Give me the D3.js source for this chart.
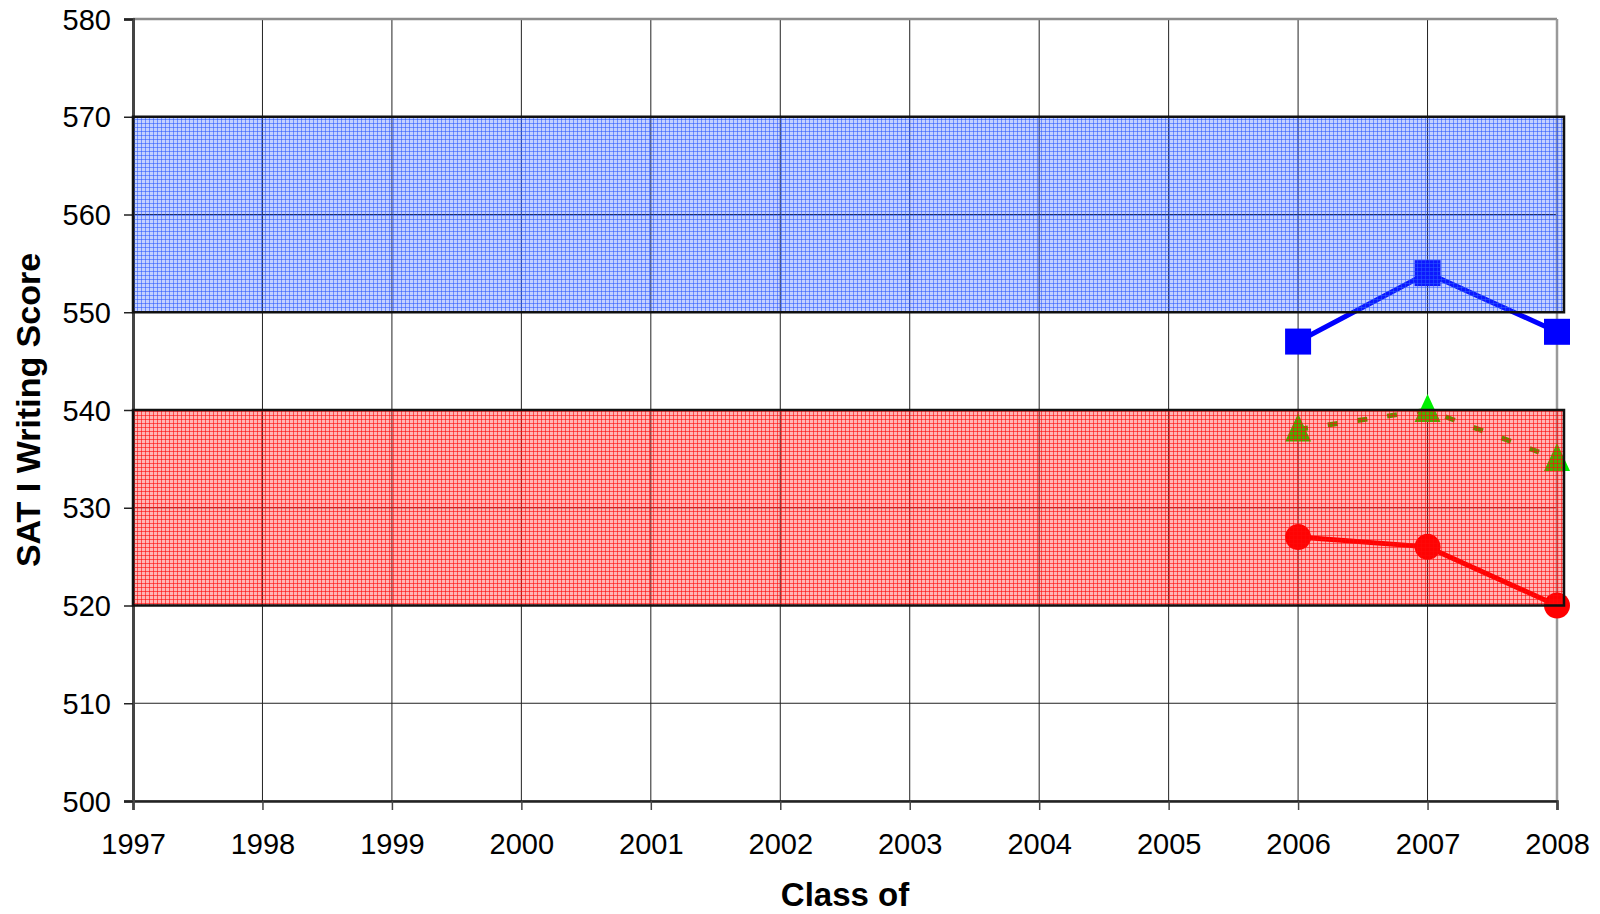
<!DOCTYPE html>
<html>
<head>
<meta charset="utf-8">
<script src="https://cdn.jsdelivr.net/npm/d3@7"></script>
<style>
	body { margin: 0; background: #fff; }
	text { font-family: "Liberation Sans", Arial, sans-serif; fill: #000; }
</style>
</head>
<body>
<div id="chart"></div>
<script>

// chart values
var yearTicks = [1997, 1998, 1999, 2000, 2001, 2002, 2003, 2004, 2005, 2006, 2007, 2008];
var scoreTicks = [500, 510, 520, 530, 540, 550, 560, 570, 580];
var seriesYears = [2006, 2007, 2008];
var blueScores = [547, 554, 548];
var greenScores = [538, 540, 535];
var redScores = [527, 526, 520];
var blueBand = [550, 570];
var redBand = [520, 540];

var margin = { top: 19, right: 43, bottom: 113, left: 133 };
var width = 1600 - margin.left - margin.right,
	height = 914 - margin.top - margin.bottom;

var root = d3.select("#chart").append("svg")
	.attr("width", 1600)
	.attr("height", 914);

// hatched fills for the two bands
var defs = root.append("defs");
function addGrid(id, color, fillOp, lineOp) {
	var p = defs.append("pattern")
		.attr("id", id)
		.attr("patternUnits", "userSpaceOnUse")
		.attr("width", 4)
		.attr("height", 4);
	p.append("rect")
		.attr("width", 4).attr("height", 4)
		.attr("fill", color).attr("fill-opacity", fillOp);
	p.append("path")
		.attr("d", "M0,0.5H4M0.5,0V4")
		.attr("stroke", color).attr("stroke-opacity", lineOp)
		.attr("stroke-width", 1);
}
addGrid("blueGrid", "#2a58ff", 0.28, 0.55);
addGrid("redGrid", "#ff0a0a", 0.3, 0.6);

var svg = root.append("g")
	.attr("transform", "translate(" + margin.left + "," + margin.top + ")");

var x = d3.scaleLinear()
	.domain([d3.min(yearTicks), d3.max(yearTicks)])
	.range([0, width]);

var y = d3.scaleLinear()
	.domain([d3.min(scoreTicks), d3.max(scoreTicks)])
	.range([height, 0]);

// gridlines
svg.append("g").selectAll("line")
	.data(scoreTicks)
	.enter().append("line")
	.attr("x1", 0).attr("x2", width)
	.attr("y1", d => y(d)).attr("y2", d => y(d))
	.attr("stroke", "#222").attr("stroke-width", 1);

svg.append("g").selectAll("line")
	.data(yearTicks)
	.enter().append("line")
	.attr("x1", d => x(d)).attr("x2", d => x(d))
	.attr("y1", 0).attr("y2", height)
	.attr("stroke", "#222").attr("stroke-width", 1);

// top and right frame are grey
svg.append("line")
	.attr("x1", 0).attr("x2", width).attr("y1", 0).attr("y2", 0)
	.attr("stroke", "#8c8c8c").attr("stroke-width", 2.5);
svg.append("line")
	.attr("x1", width).attr("x2", width).attr("y1", 0).attr("y2", height)
	.attr("stroke", "#9a9a9a").attr("stroke-width", 2.5);

// axes
var xAxis = d3.axisBottom(x)
	.tickValues(yearTicks)
	.tickFormat(d3.format("d"))
	.tickSize(9)
	.tickPadding(23);

var yAxis = d3.axisLeft(y)
	.tickValues(scoreTicks)
	.tickSize(9)
	.tickPadding(13);

var gx = svg.append("g")
	.attr("class", "x-axis axis")
	.attr("transform", "translate(0," + height + ")")
	.call(xAxis);

var gy = svg.append("g")
	.attr("class", "y-axis axis")
	.call(yAxis);

gx.select(".domain").attr("stroke", "#222").attr("stroke-width", 2.5);
gy.select(".domain").attr("stroke", "#444").attr("stroke-width", 3);
gx.selectAll(".tick line").attr("stroke", "#444").attr("stroke-width", 1.5);
gy.selectAll(".tick line").attr("stroke", "#222").attr("stroke-width", 1.5);
gx.selectAll("text").attr("font-size", 29).attr("fill", "#000");
gy.selectAll("text").attr("font-size", 29).attr("fill", "#000").attr("dy", "0.35em");

// series
var line = d3.line()
	.x(d => x(d[0]))
	.y(d => y(d[1]));

var bluePts = d3.zip(seriesYears, blueScores);
var greenPts = d3.zip(seriesYears, greenScores);
var redPts = d3.zip(seriesYears, redScores);

svg.append("path")
	.datum(greenPts)
	.attr("d", line)
	.attr("fill", "none")
	.attr("stroke", "#22c400")
	.attr("stroke-width", 5)
	.attr("stroke-dasharray", "10,20");

svg.append("g").selectAll("path")
	.data(greenPts)
	.enter().append("path")
	.attr("transform", d => "translate(" + x(d[0]) + "," + y(d[1]) + ")")
	.attr("d", "M0,-16L13,12L-13,12Z")
	.attr("fill", "#00f000");

svg.append("path")
	.datum(bluePts)
	.attr("d", line)
	.attr("fill", "none")
	.attr("stroke", "#0000ff")
	.attr("stroke-width", 5);

svg.append("g").selectAll("rect")
	.data(bluePts)
	.enter().append("rect")
	.attr("x", d => x(d[0]) - 13)
	.attr("y", d => y(d[1]) - 13)
	.attr("width", 26)
	.attr("height", 26)
	.attr("fill", "#0000ff");

svg.append("path")
	.datum(redPts)
	.attr("d", line)
	.attr("fill", "none")
	.attr("stroke", "#ff0000")
	.attr("stroke-width", 5);

svg.append("g").selectAll("circle")
	.data(redPts)
	.enter().append("circle")
	.attr("cx", d => x(d[0]))
	.attr("cy", d => y(d[1]))
	.attr("r", 13)
	.attr("fill", "#ff0000");

// translucent bands drawn over everything
var bandOverhang = 7;
[[blueBand, "url(#blueGrid)"], [redBand, "url(#redGrid)"]].forEach(function (b) {
	svg.append("rect")
		.attr("x", 0)
		.attr("y", y(b[0][1]))
		.attr("width", width + bandOverhang)
		.attr("height", y(b[0][0]) - y(b[0][1]))
		.attr("fill", b[1])
		.attr("stroke", "#111")
		.attr("stroke-width", 2.5);
});

// labels
svg.append("text")
	.attr("text-anchor", "middle")
	.attr("x", width / 2)
	.attr("y", height + 105)
	.attr("font-size", 33)
	.attr("font-weight", "bold")
	.text("Class of");

root.append("text")
	.attr("text-anchor", "middle")
	.attr("transform", "translate(40," + (margin.top + height / 2) + ") rotate(-90)")
	.attr("font-size", 34)
	.attr("font-weight", "bold")
	.text("SAT I Writing Score");

</script>
</body>
</html>
